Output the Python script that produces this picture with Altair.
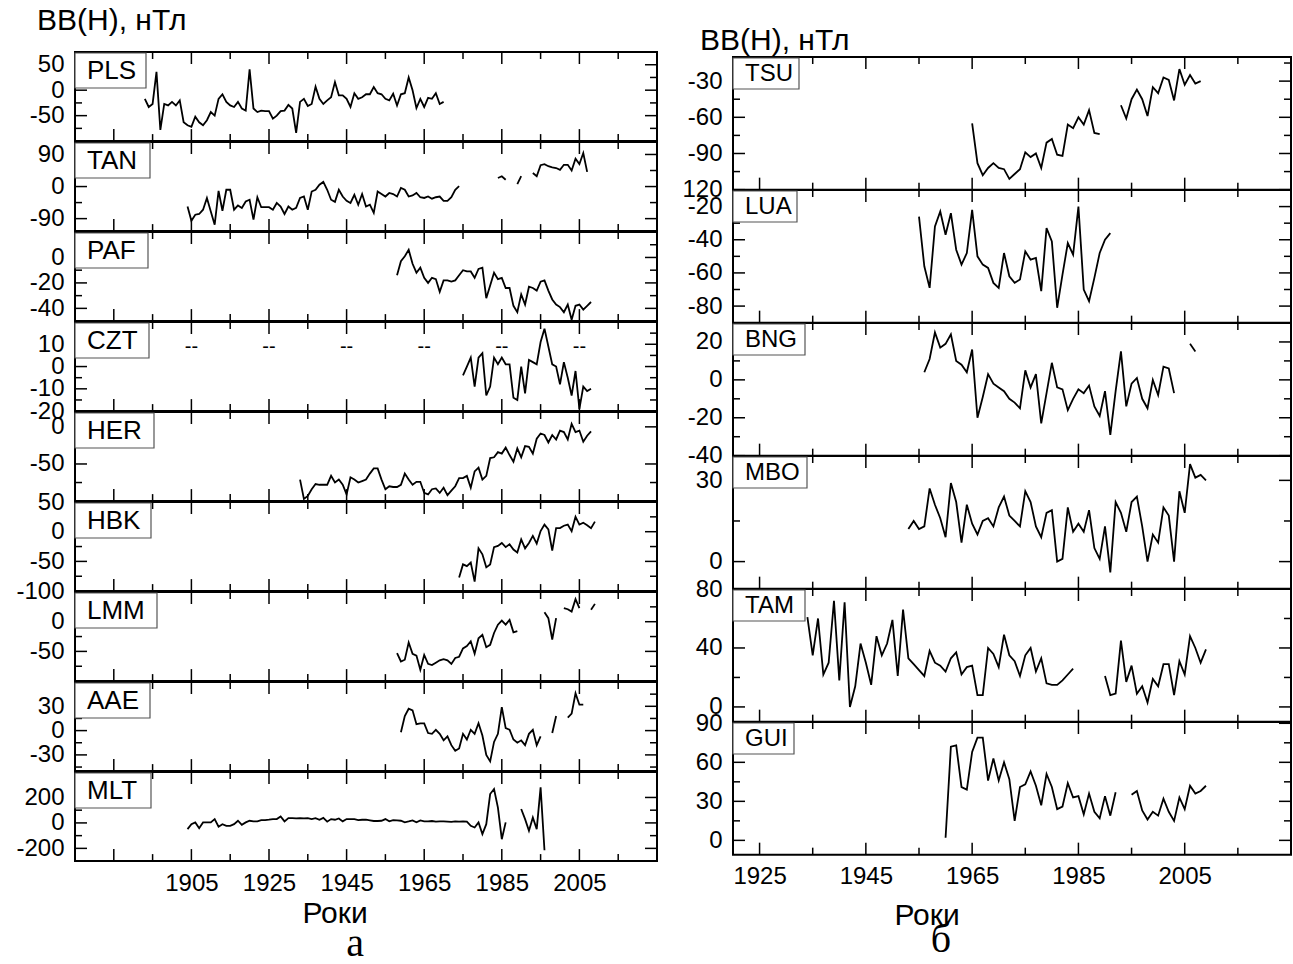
import altair as alt
import pandas as pd

FONT = "Liberation Sans"
SERIF = "Liberation Serif"

# ---------------- axes (years) ----------------
L_XDOM = [1875, 2025]
L_XMAJ = [1885, 1905, 1925, 1945, 1965, 1985, 2005, 2025]
L_XMIN = [1875, 1895, 1915, 1935, 1955, 1975, 1995, 2015]
L_XLAB = [1905, 1925, 1945, 1965, 1985, 2005]
R_XDOM = [1920, 2025]
R_XMAJ = [1925, 1945, 1965, 1985, 2005, 2025]
R_XMIN = [1935, 1955, 1975, 1995, 2015]
R_XLAB = [1925, 1945, 1965, 1985, 2005]

# ---------------- series (yearly, None = gap) ----------------
PLS_START = 1893
PLS = [-17, -33, -27, 36, -78, -27, -30, -23, -30, -20, -63, -69, -72, -52, -63, -69, -59, -43, -50, -17,
       -8, -23, -30, -33, -23, -36, -40, 41, -36, -43, -40, -41, -41, -56, -50, -41, -40, -29, -36, -84,
       -23, -17, -31, -27, 7,
       -17, -27, -20, -14, 16, -10, -10, -17, -33, -6, -17, -14, -8, -8, 6, -6, -8, -17, -20, -7,
       -30, -8, -6, 25, 0, -35, -17, -33, -15, -17, -6, -27, -23]

TAN_START = 1904
TAN = [-56, -96, -79, -77, -65, -32, -70, -107, -12, -68, -9, -9, -65, -53, -60, -42, -37, -93, -30, -58,
       -58, -58, -65, -46, -56, -77, -56, -65, -60, -32, -28, -65, -14,
       -9, 5, 13, -9, -37, -43, -9, -28, -40, -46, -23, -51, -21, -56, -51, -74, -14, -21, -28, -18,
       -21, -28, -4, -9, -28, -25, -18, -30, -32, -28, -34, -30, -28, -40, -40, -30, -9, 1,
       None, None, None, None, None, None, None, None, None,
       24, 29, 19, None, None, 7, 29, None, None,
       38, 29, 60, 63, 57, 54, 52, 47, 61, 61, 45, 78, 63, 94, 41]

PAF_START = 1958
PAF = [-14, -3, 1, 6, -5, -12, -8, -16, -20, -16, -17, -27, -18, -18, -19, -18, -14, -10, -11, -11,
       -16, -9, -8, -32, -22, -12, -17, -16, -24, -24, -38, -43, -29, -37, -23, -24, -26, -19, -18, -26,
       -33, -37, -39, -43, -37, -49, -38, -37, -41, -38, -35]

CZT_START = 1975
CZT = [-4, 0, 4, -9, 4, 6, -13, -9, 4, 1, 4, 1, 1, -14, -15, 0, -12, 3, 2, 1,
       11, 17, 9, 1, 0, -8, 2, -5, -13, -2, -19, -9, -11, -10]
CZT_DASH_YEARS = [1905, 1925, 1945, 1965, 1985, 2005]
CZT_DASH_LEVEL = 9

HER_START = 1933
HER = [-71, -97, -93, -84, -77,
       -78, -78, -78, -66, -75, -71, -78, -91, -68, -71, -75, -73, -71, -63, -56, -56, -71, -84, -80, -81,
       -81, -78, -63, -71, -78, -74, -74, -89, -91, -84, -83, -89, -82, -92, -86, -80, -69, -69, -66, -82,
       -60, -55, -71, -66, -42, -41, -34, -36, -28, -38, -47, -29, -41, -26, -27, -36, -16, -9, -11, -21,
       -11, -17, -5, -7, -17, 4, -7, -5, -20, -12, -6]

HBK_START = 1974
HBK = [-77, -55, -58, -52, -84, -28, -38, -60, -55, -26, -24, -19, -26, -21, -30, -35, -13, -28, -19, -7,
       -20, 1, 12, 4, -32, 6, 6, 10, 12, 1, 25, 12, 15, 11, 6, 17]

LMM_START = 1958
LMM = [-53, -67, -64, -35, -54, -57, -81, -56, -71, -73, -69, -65, -63, -65, -71, -61, -59, -45, -41, -33,
       -54, -28, -22, -43, -39, -19, -5, 2, -5, 3, -18, -16,
       None, None, None, None, None, None,
       16, 6, -30, 6, None, 23, 21, 17, 38, 23, None, None, 20, 30]

AAE_START = 1959
AAE = [-2, 18, 27, 25, 8, 9, 9, -3, -4, 1, -4, -12, -7, -18, -25, -22, -4, -11, 1, -4,
       9, -6, -30, -38, -14, -4, 29, 3, 1, -11, -15, -12, -18, -4, 1, -18, -7,
       None, None, -3, 18, None, None, 16, 21, 46, 32, 32]

MLT_START = 1904
MLT = [-49, -10, 4, -41, 4, 4, 4, 30, -30, -10, -23, -23, -10, 17, -15, 4, 17, 12, 12, 22,
       22, 25, 30, 30, 51, 12, 38, 38, 35, 38, 35, 38, 30, 38, 25, 40, 10, 30, 25, 35,
       12, 30, 30, 30, 22, 25, 25, 20, 15, 15, 17, 30, 12, 22, 20, 17, 5, 12, 20, 5,
       20, 12, 12, 15, 10, 12, 12, 10, 8, 12, 10, 12, 10,
       -23, -36, 4, -88, -10, 227, 266, 120, -128, 4,
       None, None, None,
       109, 30, -62, 43, -49, 279, -215]

TSU_START = 1965
TSU = [-65, -98, -108,
       -102, -98, -102, -103, -111, -107, -103, -89, -93, -90, -102, -81, -78, -91, -92, -66, -69, -60,
       -66, -54, -73, -74,
       None, None, None,
       -50, -61, -45, -37, -45, -59, -35, -40, -27, -29, -46, -20, -33, -25, -32, -30]

LUA_START = 1955
LUA = [-26, -56, -69, -32, -23, -37, -24, -46, -55, -48, -22, -50, -55,
       -57, -66, -69, -48, -62, -66, -64, -47, -52, -51, -71, -33, -41, -81, -61, -42, -49, -20, -70, -77,
       -63, -48, -40, -36]

BNG_START = 1956
BNG = [4, 11, 25, 17, 19, 24, 10, 8, 4, 16, -20, -9, 3, -2, -4, -6, -10, -12, -15, 5,
       -4, 3, -23, -7, 9, -4, -5, -16, -10, -5, -7, -3, -14, -19, -6, -29, -6, 15, -14, -2,
       1, -10, -15, 0, -8, 7, 6, -7, None, None, 19, 15]

MBO_START = 1953
MBO = [12, 15, 12, 13, 27, 21, 16, 9, 29, 22, 7, 21, 14, 10, 15, 16, 13, 20, 24, 17,
       15, 13, 26, 22, 13, 9, 18, 19, 0, 1, 20, 11, 14, 11, 19, 5, 1, 13, -4, 22,
       18, 11, 22, 24, 13, 0, 10, 7, 20, 17, 0, 26, 18, 36, 31, 32, 30]

TAM_START = 1934
TAM = [61, 35, 60, 22, 30, 72, 18, 71, 0, 14, 43, 30, 15, 48, 35, 43, 59, 21, 66, 33,
       29, 25, 21, 38, 30, 28, 24, 33, 37, 22, 27, 28, 8, 8, 40, 36, 27, 49, 35, 31,
       21, 35, 40, 24, 33, 16, 15, 15, 18, 22, 26,
       None, None, None, None, None,
       21, 8, 9, 45, 17, 28, 9, 14, 3, 19, 14, 29, 29, 8, 31, 22, 48, 40, 30, 39]

GUI_START = 1960
GUI = [2, 72, 73, 41, 39, 68, 79, 79, 46, 63, 46, 60, 47, 15, 41, 43, 53, 42, 27, 51,
       41, 24, 26, 44, 33, 34, 20, 36, 22, 17, 34, 19, 37,
       None, None,
       35, 38, 23, 16, 22, 19, 32, 22, 15, 33, 24, 42, 36, 38, 42]

# name, start, values, y-domain, labelled ticks, minor ticks
LEFT = [
    ("PLS", PLS_START, PLS, [-100, 75], [50, 0, -50], [25, -25, -75]),
    ("TAN", TAN_START, TAN, [-125, 125], [90, 0, -90], [45, -45]),
    ("PAF", PAF_START, PAF, [-50, 20], [0, -20, -40], [10, -10, -30]),
    ("CZT", CZT_START, CZT, [-20, 20], [10, 0, -10, -20], [15, 5, -5, -15]),
    ("HER", HER_START, HER, [-100, 20], [0, -50], [-75]),
    ("HBK", HBK_START, HBK, [-100, 50], [50, 0, -50, -100], [25, -25, -75]),
    ("LMM", LMM_START, LMM, [-100, 50], [0, -50], [25, -25, -75]),
    ("AAE", AAE_START, AAE, [-50, 60], [30, 0, -30], [45, 15, -15, -45]),
    ("MLT", MLT_START, MLT, [-300, 400], [200, 0, -200], [100, -100]),
]
RIGHT = [
    ("TSU", TSU_START, TSU, [-120, -10], [-30, -60, -90, -120], [-15, -45, -75, -105]),
    ("LUA", LUA_START, LUA, [-90, -10], [-20, -40, -60, -80], [-30, -50, -70]),
    ("BNG", BNG_START, BNG, [-40, 30], [20, 0, -20, -40], [10, -10, -30]),
    ("MBO", MBO_START, MBO, [-10, 39], [30, 0], [15]),
    ("TAM", TAM_START, TAM, [-10, 80], [80, 40, 0], [60, 20]),
    ("GUI", GUI_START, GUI, [-11, 91], [90, 60, 30, 0], [75, 45, 15]),
]

# ---------------- layout constants ----------------
WL, HL = 582, 89.1
WR, HR = 558, 132.67
MAJ, MIN = 12, 7
BOX_W = {"PLS": 71, "TAN": 75, "PAF": 73, "CZT": 74, "HER": 79, "HBK": 76, "LMM": 82, "AAE": 75,
         "MLT": 76, "TSU": 66, "LUA": 64, "BNG": 72, "MBO": 74, "TAM": 72, "GUI": 61}
LABEL_SHOWN = {("TSU", -120): "120"}


def series_df(start, vals):
    rows, seg, gap = [], 0, False
    for i, v in enumerate(vals):
        if v is None:
            gap = True
            continue
        if gap:
            seg += 1
            gap = False
        rows.append({"year": start + i, "v": v, "seg": seg})
    return pd.DataFrame(rows)


def panel(st, xdom, xmaj, xmin, xlab, W, H, box_h, lab_fs, bottom, extras):
    name, start, vals, ydom, ymaj, ymin = st
    xsc = alt.Scale(domain=xdom, nice=False, zero=False)
    ysc = alt.Scale(domain=ydom, nice=False, zero=False)
    if bottom:
        xax = alt.Axis(values=xlab, format="d", ticks=False, domain=False, grid=False,
                       labelFont=FONT, labelFontSize=24, labelColor="black", labelPadding=10,
                       labelFlush=False, labelOverlap=False, title=None)
    else:
        xax = None
    expr = "'' + datum.value"
    for (n, v), s in LABEL_SHOWN.items():
        if n == name:
            expr = f"datum.value == {v} ? '{s}' : " + expr
    yax = alt.Axis(values=ymaj, ticks=False, domain=False, grid=False, labelFont=FONT,
                   labelFontSize=24, labelColor="black", labelPadding=11, labelFlush=False,
                   labelOverlap=False, labelExpr=expr, title=None)

    xt = []
    for yr in xmaj:
        xt += [{"yr": yr, "ya": H, "yb": H - MAJ}, {"yr": yr, "ya": 0, "yb": MAJ}]
    for yr in xmin:
        xt += [{"yr": yr, "ya": H, "yb": H - MIN}, {"yr": yr, "ya": 0, "yb": MIN}]
    yt = []
    for v in ymaj:
        yt += [{"val": v, "xa": 0, "xb": MAJ}, {"val": v, "xa": W, "xb": W - MAJ}]
    for v in ymin:
        yt += [{"val": v, "xa": 0, "xb": MIN}, {"val": v, "xa": W, "xb": W - MIN}]

    xticks = alt.Chart(pd.DataFrame(xt)).mark_rule(color="black", strokeWidth=1.5).encode(
        x=alt.X("yr:Q", scale=xsc, axis=xax),
        y=alt.Y("ya:Q", scale=None, axis=None), y2="yb:Q")
    yticks = alt.Chart(pd.DataFrame(yt)).mark_rule(color="black", strokeWidth=1.5).encode(
        x=alt.X("xa:Q", scale=None, axis=None), x2="xb:Q",
        y=alt.Y("val:Q", scale=ysc, axis=yax))
    line = alt.Chart(series_df(start, vals)).mark_line(color="black", strokeWidth=1.8).encode(
        x=alt.X("year:Q", scale=xsc, axis=xax),
        y=alt.Y("v:Q", scale=ysc, axis=yax),
        detail="seg:N")
    ndf = pd.DataFrame({"name": [name]})
    box = alt.Chart(ndf).mark_rect(fill="white", stroke="#555555", strokeWidth=1.2).encode(
        x=alt.value(0), x2=alt.value(BOX_W[name]), y=alt.value(1), y2=alt.value(box_h))
    txt = alt.Chart(ndf).mark_text(align="left", baseline="middle", font=FONT, fontSize=lab_fs,
                                   color="black").encode(
        text="name:N", x=alt.value(12), y=alt.value(box_h / 2 + 1))
    layers = [xticks, yticks, line, box, txt]
    if name == "CZT":
        ddf = pd.DataFrame({"year": CZT_DASH_YEARS, "v": [CZT_DASH_LEVEL] * len(CZT_DASH_YEARS)})
        layers.append(alt.Chart(ddf).mark_text(text="--", font=FONT, fontSize=20, color="black").encode(
            x=alt.X("year:Q", scale=xsc, axis=xax), y=alt.Y("v:Q", scale=ysc, axis=yax)))
    layers += extras
    return alt.layer(*layers).properties(width=W, height=H)


def text_layer(t, x, y, fs, font=FONT, align="left"):
    return alt.Chart(pd.DataFrame({"t": [t]})).mark_text(
        align=align, baseline="alphabetic", font=font, fontSize=fs, color="black").encode(
        text="t:N", x=alt.value(x), y=alt.value(y))


left_panels = []
for i, st in enumerate(LEFT):
    extras = []
    if i == 0:
        extras.append(text_layer("BB(H), нТл", -38, -22, 30))
    bottom = i == len(LEFT) - 1
    if bottom:
        extras.append(text_layer("Роки", 260, HL + 62, 30, align="center"))
        extras.append(text_layer("а", 280, HL + 95, 40, font=SERIF, align="center"))
    left_panels.append(panel(st, L_XDOM, L_XMAJ, L_XMIN, L_XLAB, WL, HL, 36, 26, bottom, extras))

spacer = text_layer("BB(H), нТл", -33, -2, 30).properties(
    width=WR, height=5, view=alt.ViewBackground(strokeOpacity=0))
right_panels = [spacer]
for i, st in enumerate(RIGHT):
    extras = []
    bottom = i == len(RIGHT) - 1
    if bottom:
        extras.append(text_layer("Роки", 194, HR + 70, 30, align="center"))
        extras.append(text_layer("б", 208, HR + 97, 40, font=SERIF, align="center"))
    right_panels.append(panel(st, R_XDOM, R_XMAJ, R_XMIN, R_XLAB, WR, HR, 32, 24, bottom, extras))

left_col = alt.vconcat(*left_panels, spacing=0, bounds="flush")
right_col = alt.vconcat(*right_panels, spacing=0, bounds="flush")

chart = alt.hconcat(left_col, right_col, spacing=21).properties(
    padding={"left": 14, "top": 5, "right": 0, "bottom": 0}, background="white"
).configure_view(stroke="black", strokeWidth=2)

chart.save("out.html", embed_options={"renderer": "svg", "actions": False})
